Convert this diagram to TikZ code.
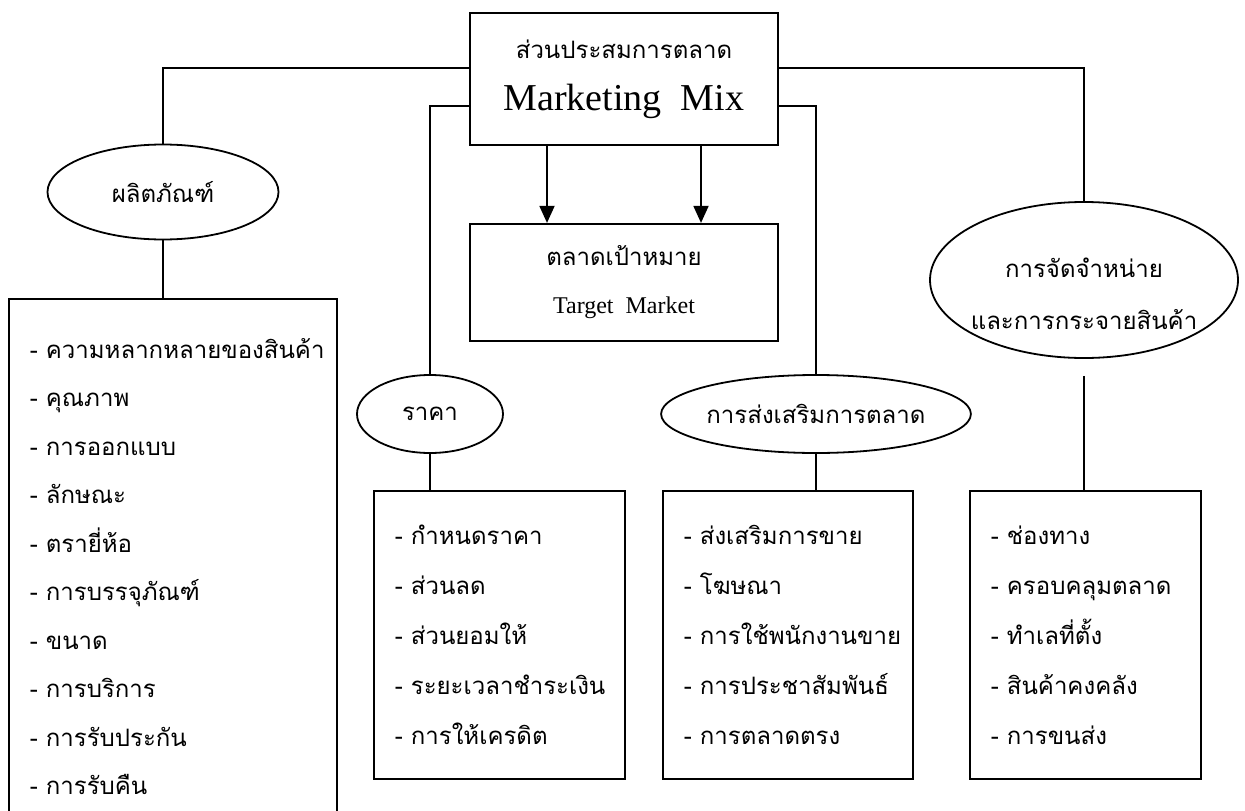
\documentclass[tikz,border=0pt]{standalone}
\usepackage{fontspec}
\setmainfont{Liberation Serif}
\newfontfamily\thai[Script=Thai]{Loma}
\usetikzlibrary{positioning,shapes.geometric,arrows.meta}

\newcommand{\itm}{\mbox{-}~}

\tikzset{
  mixbox/.style={draw, minimum width=308pt, minimum height=132pt, inner sep=0pt, align=center},
  group/.style={draw, ellipse, inner sep=0pt, font=\thai\fontsize{24}{52}\selectfont},
  listbox/.style={draw, anchor=north west, align=left, inner xsep=21pt, inner ysep=0pt,
    font=\thai\fontsize{24}{50}\selectfont},
  link/.style={line width=1.8pt},
  push/.style={link, -{Triangle[width=15pt,length=17pt]}},
}

\begin{document}
\begin{tikzpicture}[x=1pt, y=-1pt, line width=1.8pt]
  \useasboundingbox (0,0) rectangle (1245,811);

  \node[mixbox, font=\thai\fontsize{24}{52}\selectfont] (mix) at (624,79) {ส่วนประสมการตลาด\\
    {\rmfamily\fontsize{38}{52}\selectfont Marketing\ \ Mix}};
  \node[mixbox, minimum height=117pt, below=77pt of mix, font=\thai\fontsize{24}{48}\selectfont] (target)
    {ตลาดเป้าหมาย\\{\rmfamily\fontsize{24}{48}\selectfont Target\ \ Market}};

  \node[group, minimum width=231pt, minimum height=95pt] (prod) at (163,192) {ผลิตภัณฑ์};
  \node[group, minimum width=146pt, minimum height=78pt] (price) at (430,414) {ราคา};
  \node[group, minimum width=308pt, minimum height=78pt] (promo) at (816,414) {การส่งเสริมการตลาด};
  \node[group, minimum width=308pt, minimum height=156pt] (dist) at (1084,280) {};
  \node[fill=white, inner sep=1pt, align=center, font=\thai\fontsize{24}{52}\selectfont] (distname) at (1084,294)
    {การจัดจำหน่าย\\และการกระจายสินค้า};

  \node[listbox, text width=286pt, minimum height=535pt, font=\thai\fontsize{24}{48.5}\selectfont] (prodlist) at (8,298) {%
    \itm ความหลากหลายของสินค้า\\
    \itm คุณภาพ\\
    \itm การออกแบบ\\
    \itm ลักษณะ\\
    \itm ตรายี่ห้อ\\
    \itm การบรรจุภัณฑ์\\
    \itm ขนาด\\
    \itm การบริการ\\
    \itm การรับประกัน\\
    \itm การรับคืน};
  \node[listbox, text width=209pt, minimum height=288pt] (pricelist) at (373,490) {%
    \itm กำหนดราคา\\
    \itm ส่วนลด\\
    \itm ส่วนยอมให้\\
    \itm ระยะเวลาชำระเงิน\\
    \itm การให้เครดิต};
  \node[listbox, text width=208pt, minimum height=288pt] (promolist) at (662,490) {%
    \itm ส่งเสริมการขาย\\
    \itm โฆษณา\\
    \itm การใช้พนักงานขาย\\
    \itm การประชาสัมพันธ์\\
    \itm การตลาดตรง};
  \node[listbox, text width=189pt, minimum height=288pt] (distlist) at (969,490) {%
    \itm ช่องทาง\\
    \itm ครอบคลุมตลาด\\
    \itm ทำเลที่ตั้ง\\
    \itm สินค้าคงคลัง\\
    \itm การขนส่ง};

  \draw[link] ([yshift=11pt]mix.west) -| (prod.north);
  \draw[link] ([yshift=-27pt]mix.west) -| (price.north);
  \draw[link] ([yshift=11pt]mix.east) -| (dist.north);
  \draw[link] ([yshift=-27pt]mix.east) -| (promo.north);
  \draw[push] ([xshift=-77pt]mix.south) -- ([xshift=-77pt]target.north);
  \draw[push] ([xshift=77pt]mix.south) -- ([xshift=77pt]target.north);

  \draw[link] (prod.south) -- (prod.south |- prodlist.north);
  \draw[link] (price.south) -- (price.south |- pricelist.north);
  \draw[link] (promo.south) -- (promo.south |- promolist.north);
  \draw[link] ([yshift=-17pt]dist.south) -- (dist.south |- distlist.north);
\end{tikzpicture}
\end{document}
